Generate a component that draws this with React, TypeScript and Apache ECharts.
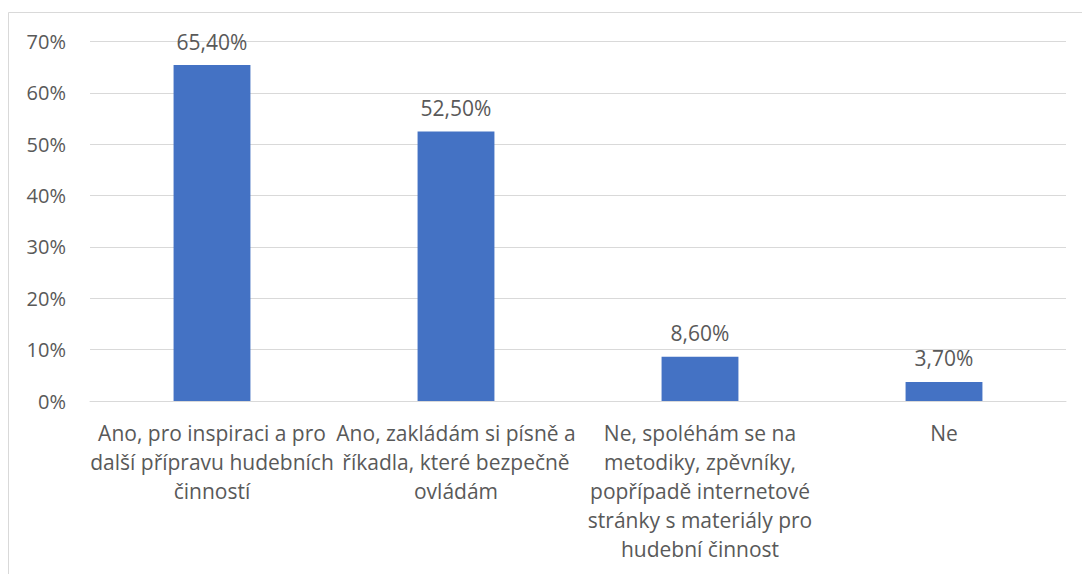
import React, { useEffect, useRef } from "react";
import * as echarts from "echarts";

const categories = [
  "Ano, pro inspiraci a pro\ndalší přípravu hudebních\nčinností",
  "Ano, zakládám si písně a\nříkadla, které bezpečně\novládám",
  "Ne, spoléhám se na\nmetodiky, zpěvníky,\npopřípadě internetové\nstránky s materiály pro\nhudební činnost",
  "Ne",
];
const values = [65.4, 52.5, 8.6, 3.7];
const yTicks = [0, 10, 20, 30, 40, 50, 60, 70];

const FONT = "'Open Sans', 'Noto Sans', sans-serif";
const TEXT = "#595959";
const GRID = "#d9d9d9";

export default function App() {
  const ref = useRef<HTMLDivElement>(null);
  useEffect(() => {
    if (!ref.current) return;
    const chart = echarts.init(ref.current, null, { renderer: "svg" });
    chart.setOption({
      animation: false,
      backgroundColor: "#fff",
      textStyle: { fontFamily: FONT },
      grid: { left: 90, right: 16, top: 41.5, bottom: 173, containLabel: false },
      graphic: [
        { type: "line", shape: { x1: 8.5, y1: 12.5, x2: 1082, y2: 12.5 }, style: { stroke: GRID, lineWidth: 1 } },
        { type: "line", shape: { x1: 8.5, y1: 12.5, x2: 8.5, y2: 574 }, style: { stroke: GRID, lineWidth: 1 } },
      ],
      xAxis: {
        type: "category",
        data: categories,
        axisTick: { show: false },
        axisLine: { show: true, lineStyle: { color: GRID, width: 1 } },
        axisLabel: {
          color: TEXT,
          fontSize: 21,
          fontFamily: FONT,
          lineHeight: 29,
          margin: 17,
          interval: 0,
          align: "center",
        },
      },
      yAxis: {
        type: "value",
        min: yTicks[0],
        max: yTicks[yTicks.length - 1],
        interval: 10,
        axisLine: { show: false },
        axisTick: { show: false },
        splitLine: { lineStyle: { color: GRID, width: 1 } },
        axisLabel: {
          color: TEXT,
          fontSize: 20,
          fontFamily: FONT,
          margin: 24,
          formatter: (v: number) => `${v}%`,
        },
      },
      series: [
        {
          type: "bar",
          data: values,
          barWidth: "31.5%",
          itemStyle: { color: "#4472C4" },
          label: {
            show: true,
            position: "top",
            distance: 13,
            color: TEXT,
            fontSize: 21,
            fontFamily: FONT,
            formatter: (p: any) => `${p.value.toFixed(2).replace(".", ",")}%`,
          },
        },
      ],
    });
    return () => chart.dispose();
  }, []);
  return (
    <div
      ref={ref}
      style={{ position: "fixed", left: 0, top: 0, width: 1082, height: 574 }}
    />
  );
}
